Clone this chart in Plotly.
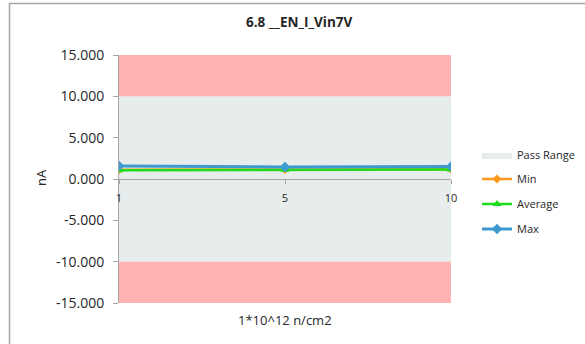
import plotly.graph_objects as go

categories = ["1", "5", "10"]
x_pos = [0, 1, 2]
min_vals = [1.12, 1.15, 1.18]
avg_vals = [1.05, 1.12, 1.15]
max_vals = [1.58, 1.45, 1.52]
pass_upper = [10, 10, 10]
pass_lower = [-10, -10, -10]
y_ticks = [-15, -10, -5, 0, 5, 10, 15]
y_tick_text = ["-15.000", "-10.000", "-5.000", "0.000", "5.000", "10.000", "15.000"]

FONT = "Open Sans"
AXC = "#A6A6A6"

fig = go.Figure()

fig.add_trace(go.Scatter(
    x=x_pos + x_pos[::-1], y=pass_upper + pass_lower[::-1],
    fill="toself", fillcolor="#E7ECEC", line=dict(width=0),
    mode="lines", name="Pass Range", legend="legend", hoverinfo="skip"))

fig.add_trace(go.Scatter(
    x=x_pos, y=min_vals, name="Min", mode="lines+markers",
    line=dict(color="#FF9A1F", width=2.5),
    marker=dict(symbol="diamond", size=7, color="#FF9A1F"), legend="legend2"))
fig.add_trace(go.Scatter(
    x=x_pos, y=avg_vals, name="Average", mode="lines+markers",
    line=dict(color="#1FDB1F", width=2.5),
    marker=dict(symbol="triangle-up", size=8, color="#1FDB1F"), legend="legend3"))
fig.add_trace(go.Scatter(
    x=x_pos, y=max_vals, name="Max", mode="lines+markers",
    line=dict(color="#3D9AD1", width=3),
    marker=dict(symbol="diamond", size=8, color="#3D9AD1"), legend="legend4"))

L, R, T, B = 119, 134, 55, 41
W, H = 585, 344
pw, ph = W - L - R, H - T - B

def px_x(x):
    return (x - L) / pw

def px_y(y):
    return (H - B - y) / ph

leg_common = dict(x=px_x(477), xanchor="left", yanchor="middle",
                  bgcolor="rgba(0,0,0,0)", font=dict(family=FONT, size=11, color="#262626"))

fig.update_layout(
    width=W, height=H,
    margin=dict(l=L, r=R, t=T, b=B, autoexpand=False),
    paper_bgcolor="white",
    plot_bgcolor="#FFB3B3",
    font=dict(family=FONT, color="#262626"),
    showlegend=True,
    legend=dict(y=px_y(155), **leg_common),
    legend2=dict(y=px_y(179), **leg_common),
    legend3=dict(y=px_y(204), **leg_common),
    legend4=dict(y=px_y(229), **leg_common),
    xaxis=dict(
        range=[0, 2], tickvals=x_pos, ticktext=categories,
        anchor="free", position=0.5, automargin=False,
        showgrid=False, zeroline=False,
        showline=True, linecolor=AXC, linewidth=1,
        ticks="outside", ticklen=4, tickcolor=AXC,
        ticklabelstandoff=5,
        tickfont=dict(family=FONT, size=11, color="#262626"),
    ),
    yaxis=dict(
        range=[-15, 15], tickvals=y_ticks, ticktext=y_tick_text, automargin=False,
        showgrid=False, zeroline=False,
        showline=True, linecolor=AXC, linewidth=1,
        ticks="outside", ticklen=5, tickcolor=AXC,
        ticklabelstandoff=6,
        tickfont=dict(family=FONT, size=14, color="#262626"),
    ),
    annotations=[
        dict(text="<b>6.8 __EN_I_Vin7V</b>", xref="paper", yref="paper",
             x=px_x(299), y=px_y(22), showarrow=False, xanchor="center", yanchor="middle",
             font=dict(family=FONT, size=13.5, color="#262626")),
        dict(text="1*10^12 n/cm2", xref="paper", yref="paper",
             x=px_x(285), y=px_y(320), showarrow=False, xanchor="center", yanchor="middle",
             font=dict(family=FONT, size=13, color="#262626")),
        dict(text="nA", xref="paper", yref="paper", textangle=-90,
             x=px_x(41), y=px_y(178), showarrow=False, xanchor="center", yanchor="middle",
             font=dict(family=FONT, size=13, color="#262626")),
    ],
    shapes=[
        dict(type="rect", xref="paper", yref="paper",
             x0=px_x(9.5), x1=px_x(700), y0=px_y(400), y1=px_y(3.5),
             line=dict(color="#A6A6A6", width=1.5), fillcolor="rgba(0,0,0,0)",
             layer="below"),
    ],
)

fig.write_html("out.html", config={"displayModeBar": False},
               post_script="document.body.style.margin='0';document.body.style.overflow='hidden';")
